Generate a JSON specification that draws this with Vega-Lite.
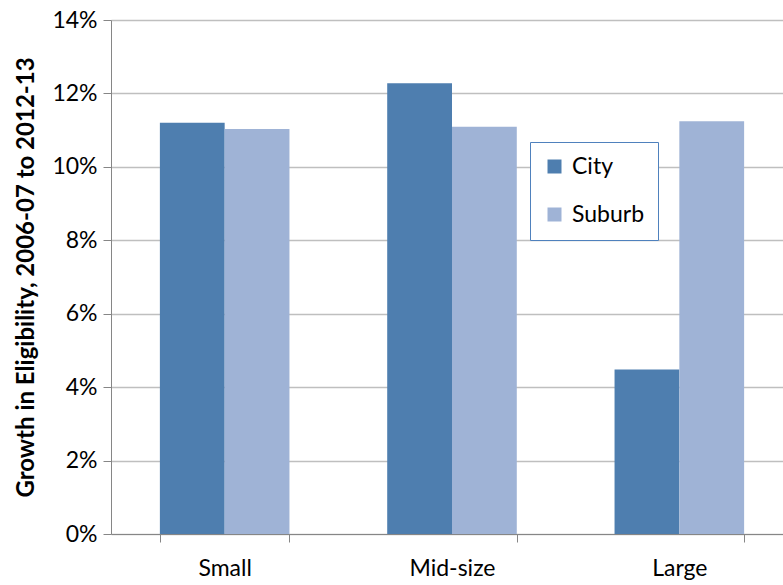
{
  "$schema": "https://vega.github.io/schema/vega-lite/v6.json",
  "autosize": "none",
  "width": 682,
  "height": 514,
  "padding": {"left": 111, "top": 20, "right": 0, "bottom": 51},
  "background": "white",
  "config": {"view": {"stroke": null}, "font": "Lato"},
  "data": {
    "values": [
      {"size": "Small", "type": "City", "growth": 0.112},
      {"size": "Small", "type": "Suburb", "growth": 0.1103},
      {"size": "Mid-size", "type": "City", "growth": 0.1228},
      {"size": "Mid-size", "type": "Suburb", "growth": 0.1109},
      {"size": "Large", "type": "City", "growth": 0.0448},
      {"size": "Large", "type": "Suburb", "growth": 0.1124}
    ]
  },
  "mark": {"type": "bar"},
  "encoding": {
    "x": {
      "field": "size",
      "type": "nominal",
      "sort": ["Small", "Mid-size", "Large"],
      "scale": {"paddingInner": 0.43, "paddingOuter": 0.215},
      "axis": {
        "title": null,
        "labelAngle": 0,
        "labelFontSize": 23,
        "labelFont": "Lato",
        "labelColor": "#000",
        "labelPadding": 15,
        "tickBand": "extent",
        "tickSize": 8,
        "tickColor": "#868686",
        "domainColor": "#868686",
        "grid": false
      }
    },
    "xOffset": {"field": "type", "type": "nominal", "sort": ["City", "Suburb"]},
    "y": {
      "field": "growth",
      "type": "quantitative",
      "scale": {"domain": [0, 0.14], "nice": false},
      "axis": {
        "title": "Growth in Eligibility, 2006-07 to 2012-13",
        "titleFontSize": 24,
        "titleFontWeight": "bold",
        "titleFont": "Lato",
        "titleColor": "#000",
        "titlePadding": 13,
        "format": ".0%",
        "values": [0, 0.02, 0.04, 0.06, 0.08, 0.1, 0.12, 0.14],
        "labelFontSize": 23,
        "labelFont": "Lato",
        "labelColor": "#000",
        "labelPadding": 6,
        "tickSize": 8,
        "tickColor": "#868686",
        "domainColor": "#868686",
        "gridColor": "#BFBFBF",
        "gridWidth": 1.5
      }
    },
    "color": {
      "field": "type",
      "type": "nominal",
      "scale": {"domain": ["City", "Suburb"], "range": ["#4E7EAF", "#9FB3D6"]},
      "legend": {
        "title": null,
        "orient": "none",
        "legendX": 419,
        "legendY": 122,
        "symbolType": "square",
        "symbolSize": 196,
        "symbolStrokeWidth": 0,
        "labelFontSize": 23,
        "labelFont": "Lato",
        "labelColor": "#000",
        "rowPadding": 24,
        "padding": 13,
        "strokeColor": "#4F81BD",
        "fillColor": "white",
        "labelOffset": 6
      }
    }
  }
}
